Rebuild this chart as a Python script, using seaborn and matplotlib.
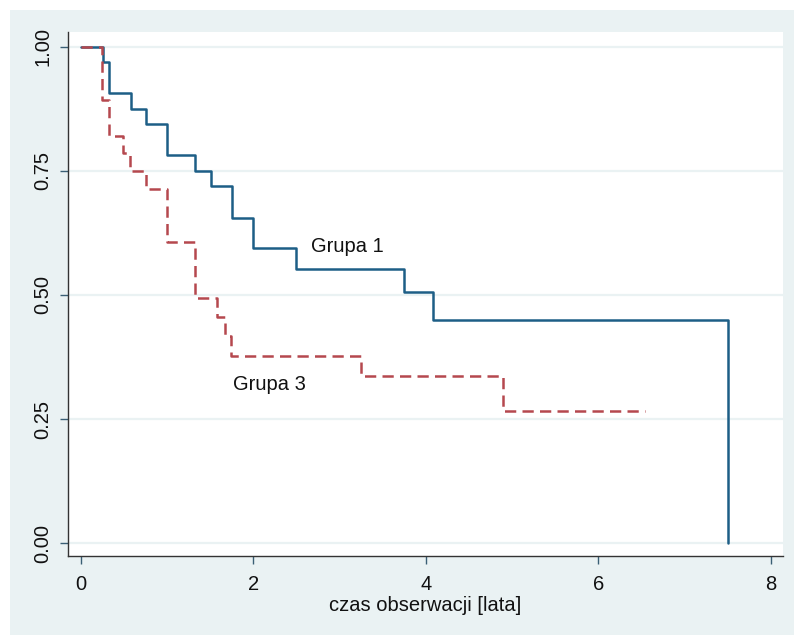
import matplotlib
matplotlib.use("Agg")
import matplotlib.pyplot as plt
from matplotlib.patches import Rectangle
import seaborn as sns
import pandas as pd

# Kaplan-Meier survival estimates per group (step times in years)
group1_time = [0.0, 0.26, 0.33, 0.58, 0.757, 1.0, 1.33, 1.507, 1.754, 2.0, 2.5, 3.752, 4.08, 7.5]
group1_surv = [1.0, 0.969, 0.906, 0.875, 0.844, 0.781, 0.750, 0.719, 0.656, 0.594, 0.552, 0.506, 0.450, 0.0]

group3_time = [0.0, 0.25, 0.332, 0.487, 0.572, 0.757, 1.0, 1.325, 1.577, 1.673, 1.743, 3.25, 4.90, 6.54]
group3_surv = [1.0, 0.893, 0.821, 0.786, 0.750, 0.714, 0.607, 0.493, 0.455, 0.417, 0.377, 0.337, 0.266, 0.266]

group_names = ["Grupa 1", "Grupa 3"]
x_ticks = [0, 2, 4, 6, 8]
y_ticks = [0.0, 0.25, 0.50, 0.75, 1.00]
y_tick_labels = ["0.00", "0.25", "0.50", "0.75", "1.00"]
x_label = "czas obserwacji [lata]"

df = pd.concat([
    pd.DataFrame({"t": group1_time, "S": group1_surv, "grupa": group_names[0]}),
    pd.DataFrame({"t": group3_time, "S": group3_surv, "grupa": group_names[1]}),
], ignore_index=True)

sns.set_theme(style="white")
plt.rcParams["font.family"] = ["Liberation Sans", "DejaVu Sans"]

W, H = 794, 635
fig = plt.figure(figsize=(W / 100, H / 100), dpi=100)
fig.patch.set_facecolor("white")
bg = "#EAF2F3"
fig.add_artist(Rectangle((10 / W, 0), 1 - 10 / W, 1 - 10 / H, transform=fig.transFigure,
                         facecolor=bg, edgecolor="none", zorder=0))

ax = fig.add_axes([68 / W, 1 - 556 / H, (783 - 68) / W, (556 - 32) / H])
ax.set_facecolor("white")

# reference lines
for yv in y_ticks:
    ax.axhline(yv, color=bg, lw=1.6, zorder=0)

blue = "#1d5e86"
red = "#b5484e"
sns.lineplot(data=df, x="t", y="S", hue="grupa", style="grupa",
             palette={group_names[0]: blue, group_names[1]: red},
             dashes={group_names[0]: "", group_names[1]: (4.5, 2.5)},
             drawstyle="steps-post", estimator=None, sort=False,
             linewidth=1.8, legend=False, ax=ax)

fs = 14.5
ax.text(3.095, 0.598, group_names[0], ha="center", va="center", fontsize=fs, color="#111111")
ax.text(2.19, 0.319, group_names[1], ha="center", va="center", fontsize=fs, color="#111111")

ax.set_xlim(-0.147, 8.143)
ax.set_ylim(-0.0256, 1.0296)
ax.set_xticks(x_ticks)
ax.set_yticks(y_ticks)
ax.set_yticklabels(y_tick_labels, rotation=90, va="center")
ax.set_xlabel(x_label, fontsize=fs, color="#111111", labelpad=1)
ax.set_ylabel("")

for side in ["top", "right"]:
    ax.spines[side].set_visible(False)
for side in ["left", "bottom"]:
    ax.spines[side].set_color("#333333")
    ax.spines[side].set_linewidth(1.0)

ax.tick_params(axis="both", which="major", direction="out", length=6, width=1.0,
               color="#3a5f75", labelsize=fs, labelcolor="#111111",
               left=True, bottom=True)
ax.tick_params(axis="x", pad=8)
ax.tick_params(axis="y", pad=5)

fig.savefig("out.png", dpi=100, facecolor=fig.get_facecolor())
